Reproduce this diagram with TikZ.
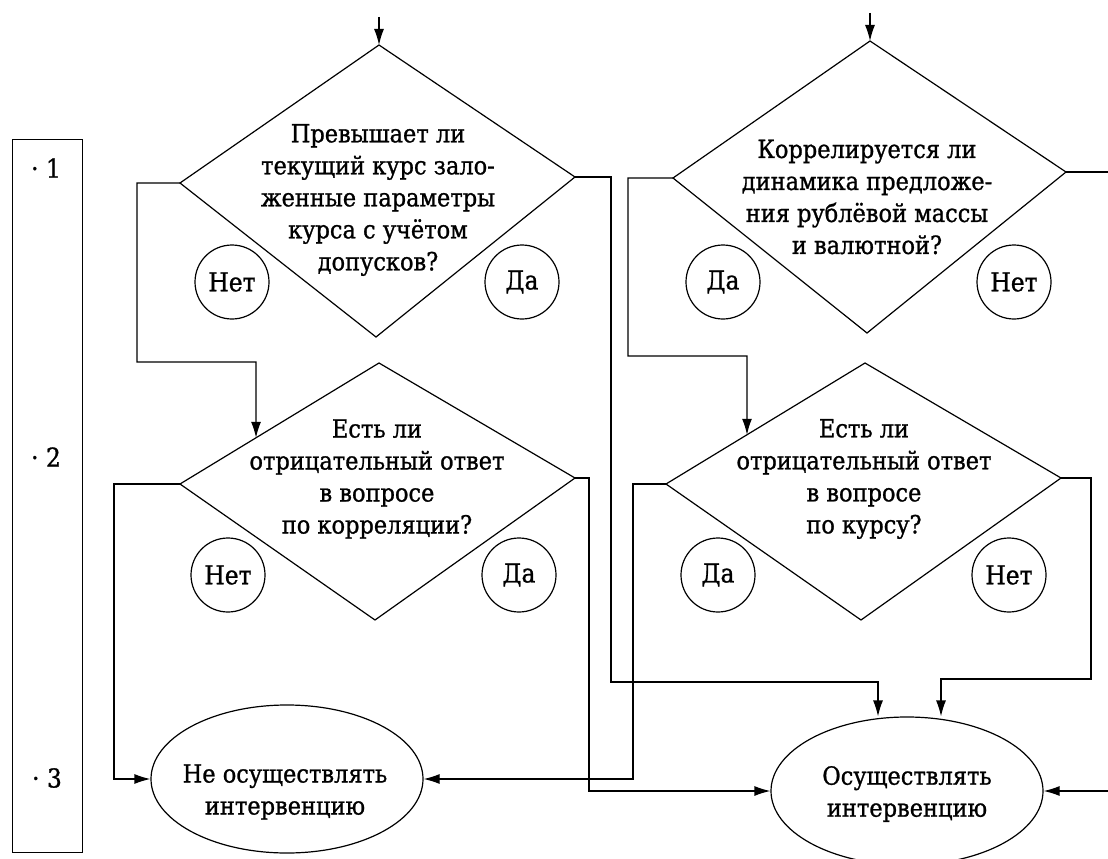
\documentclass[tikz,border=0pt]{standalone}
\usepackage{fontspec}
\setmainfont[FakeStretch=0.9,FakeBold=1.0]{DejaVu Serif}
\usetikzlibrary{arrows.meta,calc,shapes.geometric}
\begin{document}
\begin{tikzpicture}[x=1pt,y=-1pt,line width=1.2pt,
  arr/.style={-{Latex[length=16pt,width=10pt]}},
  qtext/.style={align=center,inner sep=0pt,font=\fontsize{25}{32}\selectfont},
  ans/.style={circle,draw,minimum size=74pt,inner sep=0pt,font=\fontsize{26}{28}\selectfont},
  term/.style={ellipse,draw,minimum width=272pt,minimum height=148pt,inner sep=0pt},
  lbl/.style={font=\fontsize{26}{28}\selectfont,inner sep=0pt},
  dia/.style={draw,line join=miter}]
\useasboundingbox (0,0) rectangle (1108,859);

% left bar
\node[draw,anchor=north west,minimum width=70.5pt,minimum height=713pt,inner sep=0pt] (bar) at (11.5,139) {};
\node[lbl] (n1) at (46,168) {·~1};
\node[lbl] (n2) at (46,457) {·~2};
\node[lbl] (n3) at (47,778) {·~3};

% diamonds
\coordinate (d1t) at (379,45);  \coordinate (d1l) at (180,183);
\coordinate (d1r) at (575,177); \coordinate (d1b) at (376,337);
\coordinate (d2t) at (870,41);  \coordinate (d2l) at (673,178);
\coordinate (d2r) at (1066,172);\coordinate (d2b) at (867,333);
\coordinate (d3t) at (379,363); \coordinate (d3l) at (180,484);
\coordinate (d3r) at (575,478); \coordinate (d3b) at (375,620);
\coordinate (d4t) at (865,363); \coordinate (d4l) at (666,484);
\coordinate (d4r) at (1061,478);\coordinate (d4b) at (861,620);
\draw[dia] (d1t) -- (d1r) -- (d1b) -- (d1l) -- cycle;
\draw[dia] (d2t) -- (d2r) -- (d2b) -- (d2l) -- cycle;
\draw[dia] (d3t) -- (d3r) -- (d3b) -- (d3l) -- cycle;
\draw[dia] (d4t) -- (d4r) -- (d4b) -- (d4l) -- cycle;

\node[qtext] (q1) at (378,200) {Превышает ли\\текущий курс зало-\\женные параметры\\курса с учётом\\допусков?};
\node[qtext] (q2) at (867,197) {Коррелируется ли\\динамика предложе-\\ния рублёвой массы\\и валютной?};
\node[qtext] (q3) at (377,479) {Есть ли\\отрицательный ответ\\в вопросе\\по корреляции?};
\node[qtext] (q4) at (864,479) {Есть ли\\отрицательный ответ\\в вопросе\\по курсу?};

% answer circles
\node[ans] (a1n) at (232,282) {Нет};
\node[ans] (a1y) at (522,282) {Да};
\node[ans] (a2y) at (723,282) {Да};
\node[ans] (a2n) at (1014,282) {Нет};
\node[ans] (a3n) at (228,575) {Нет};
\node[ans] (a3y) at (519,575) {Да};
\node[ans] (a4y) at (718,575) {Да};
\node[ans] (a4n) at (1009,575) {Нет};

% terminal ellipses
\node[term] (e1) at (287,779) {};
\node[qtext] (t1) at (285,792) {Не осуществлять\\интервенцию};
\node[term] (e2) at (907,791) {};
\node[qtext] (t2) at (907,794) {Осуществлять\\интервенцию};

% free ends
\coordinate (s1) at (379,17);
\coordinate (s2) at (870,13);
\coordinate (x2) at (1108,172);
\coordinate (x3) at (1108,791);

% connectors
\draw[arr] (s1) -- (d1t);
\draw[arr] (s2) -- (d2t);
\draw[arr] (d1l) -- (137,183) -- (137,362) -- (256,362) -- ($(d3l)!0.382!(d3t)$);
\draw[arr] (d1r) -- (611,177) -- (611,682) -- (878,682) -- (878,682 |- e2.north);
\draw[arr] (d2l) -- (628,178) -- (628,356) -- (747,356) -- ($(d4l)!0.407!(d4t)$);
\draw (d2r) -- (x2);
\draw[arr] (d3l) -- (114,484) |- (e1.west);
\draw[arr] (d3r) -- (589,478) |- (e2.west);
\draw[arr] (d4l) -- (633,484) |- (e1.east);
\draw[arr] (d4r) -- (1091,478) -- (1091,679) -- (941,679) -- (941,679 |- e2.north);
\draw[arr] (x3) -- (e2.east);
\end{tikzpicture}
\end{document}
